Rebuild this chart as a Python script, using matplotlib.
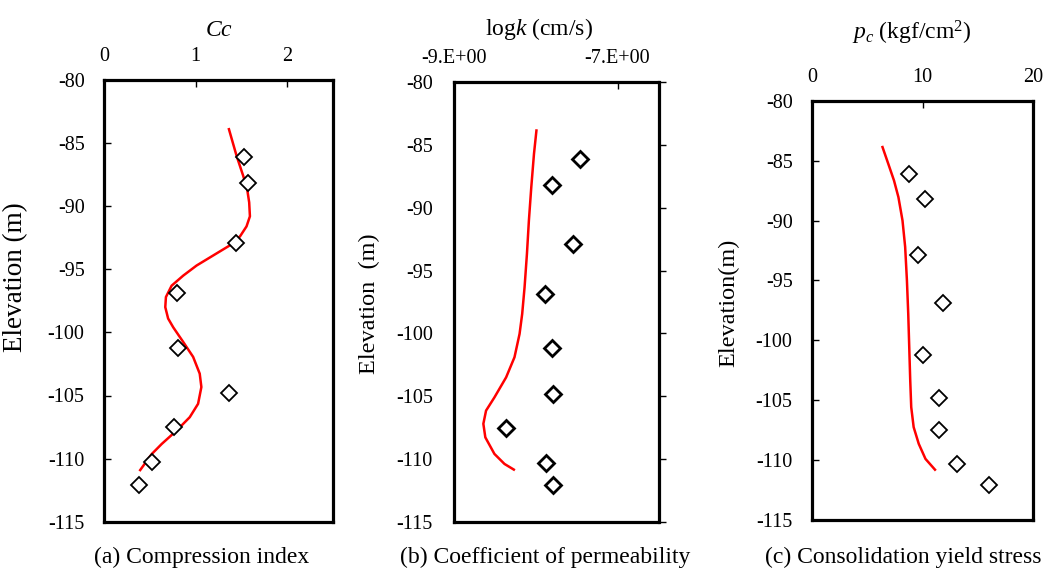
import matplotlib
matplotlib.use("Agg")
import matplotlib.pyplot as plt

plt.rcParams['font.family'] = ['Liberation Serif', 'DejaVu Serif']
plt.rcParams['mathtext.fontset'] = 'custom'
plt.rcParams['mathtext.rm'] = 'Liberation Serif'
plt.rcParams['mathtext.it'] = 'Liberation Serif:italic'
plt.rcParams['axes.unicode_minus'] = False

# ---- data ----
elev = [-86.1, -88.2, -92.9, -96.9, -101.2, -104.8, -107.5, -110.3, -112.1]
cc = [1.53, 1.57, 1.44, 0.80, 0.81, 1.37, 0.76, 0.52, 0.38]
logk = [-7.46, -7.80, -7.54, -7.89, -7.80, -7.785, -8.36, -7.87, -7.785]
pc = [8.8, 10.2, 9.6, 11.9, 10.05, 11.5, 11.5, 13.1, 16.05]

cc_line_elev = [-83.9, -86.0, -87.6, -88.7, -89.7, -90.8, -91.6, -92.4, -93.1,
                -93.9, -94.7, -95.5, -96.3, -97.2, -98.0, -98.9, -99.6,
                -100.75, -101.94, -103.27, -104.33, -105.66, -106.72,
                -107.78, -108.84, -109.64, -110.91]
cc_line = [1.364, 1.447, 1.52, 1.564, 1.585, 1.593, 1.556, 1.484, 1.375,
           1.193, 1.011, 0.865, 0.738, 0.676, 0.669, 0.70, 0.756,
           0.864, 0.973, 1.045, 1.063, 1.027, 0.936,
           0.792, 0.63, 0.521, 0.395]

k_line_elev = [-83.84, -85.7, -88.36, -91.0, -93.67, -96.33, -98.45, -100.04,
               -101.9, -103.5, -105.1, -106.15, -107.2, -108.28, -109.6,
               -110.4, -110.85]
k_line = [-7.99, -8.02, -8.053, -8.082, -8.106, -8.135, -8.164, -8.196,
          -8.258, -8.36, -8.503, -8.605, -8.638, -8.614, -8.503,
          -8.38, -8.266]

pc_line_elev = [-83.87, -85.26, -86.66, -88.05, -90.0, -92.2, -95.0, -97.8,
                -100.57, -103.36, -105.58, -107.25, -108.64, -109.9, -110.8]
pc_line = [6.38, 6.90, 7.42, 7.82, 8.19, 8.43, 8.59, 8.71,
           8.8, 8.89, 8.98, 9.2, 9.66, 10.27, 11.13]

y_ticks = [-80, -85, -90, -95, -100, -105, -110, -115]
cc_ticks = [0, 1, 2]
k_ticks = [-9, -7]
k_tick_labels = ['-9.E+00', '-7.E+00']
pc_ticks = [0, 10, 20]

captions = ['(a) Compression index', '(b) Coefficient of permeability',
            '(c) Consolidation yield stress']

W, H = 1045, 568
fig = plt.figure(figsize=(W / 100, H / 100), dpi=100)


def px_axes(l, t, r, b):
    return fig.add_axes([l / W, 1 - b / H, (r - l) / W, (b - t) / H])


axA = px_axes(104, 80, 333, 521.7)
axB = px_axes(453.7, 82.3, 658.5, 521.7)
axC = px_axes(812, 100.7, 1033, 520)

TICK_FS = 14.5
LAB_FS = 17

for ax in (axA, axB, axC):
    ax.set_ylim(-115, -80)
    ax.set_yticks(y_ticks)
    ax.xaxis.set_ticks_position('top')
    ax.xaxis.set_label_position('top')
    for s in ax.spines.values():
        s.set_linewidth(2.3)
        s.set_color('black')
    ax.tick_params(axis='x', direction='in', length=5, width=1, labelsize=TICK_FS, pad=10)

# (a)
axA.plot(cc_line, cc_line_elev, color='#ff0000', lw=1.8, zorder=2)
axA.plot(cc, elev, linestyle='none', marker='D', ms=8.5, mfc='white', mec='black', mew=1.3, zorder=3)
axA.set_xlim(0, 2.5)
axA.set_xticks(cc_ticks)
axA.tick_params(axis='y', direction='in', length=5, width=1, labelsize=TICK_FS, pad=14)
axA.set_xlabel('$Cc$', fontsize=LAB_FS)
axA.xaxis.set_label_coords(0.502, 1.10)
axA.set_ylabel('Elevation (m)', fontsize=19.5)
axA.yaxis.set_label_coords(-0.33, 0.554)

# (b)
axB.plot(k_line, k_line_elev, color='#ff0000', lw=1.8, zorder=2)
axB.plot(logk, elev, linestyle='none', marker='D', ms=8.5, mfc='white', mec='black', mew=2.0, zorder=3)
axB.set_xlim(-9, -6.5)
axB.set_xticks(k_ticks)
axB.set_xticklabels(k_tick_labels)
axB.tick_params(axis='y', direction='out', length=5, width=1, labelsize=TICK_FS,
                left=False, right=True, labelleft=True, labelright=False, pad=10)
axB.set_xlabel('log$k$ (cm/s)', fontsize=LAB_FS)
axB.xaxis.set_label_coords(0.418, 1.108)
axB.set_ylabel('Elevation  (m)', fontsize=17.5)
axB.yaxis.set_label_coords(-0.36, 0.497)

# (c)
axC.plot(pc_line, pc_line_elev, color='#ff0000', lw=1.8, zorder=2)
axC.plot(pc, elev, linestyle='none', marker='D', ms=8.5, mfc='white', mec='black', mew=1.3, zorder=3)
axC.set_xlim(0, 20)
axC.set_xticks(pc_ticks)
axC.tick_params(axis='y', direction='in', length=5, width=1, labelsize=TICK_FS, pad=14)
axC.set_xlabel('$p_c$ (kgf/cm$^2$)', fontsize=LAB_FS)
axC.xaxis.set_label_coords(0.451, 1.145)
axC.set_ylabel('Elevation(m)', fontsize=17.5)
axC.yaxis.set_label_coords(-0.33, 0.518)

# captions
fig.text(202 / W, 1 - 563 / H, captions[0], fontsize=17, ha='center', va='baseline')
fig.text(545 / W, 1 - 563 / H, captions[1], fontsize=17, ha='center', va='baseline')
fig.text(765 / W, 1 - 563 / H, captions[2], fontsize=17, ha='left', va='baseline')

fig.savefig('out.png', dpi=100)
